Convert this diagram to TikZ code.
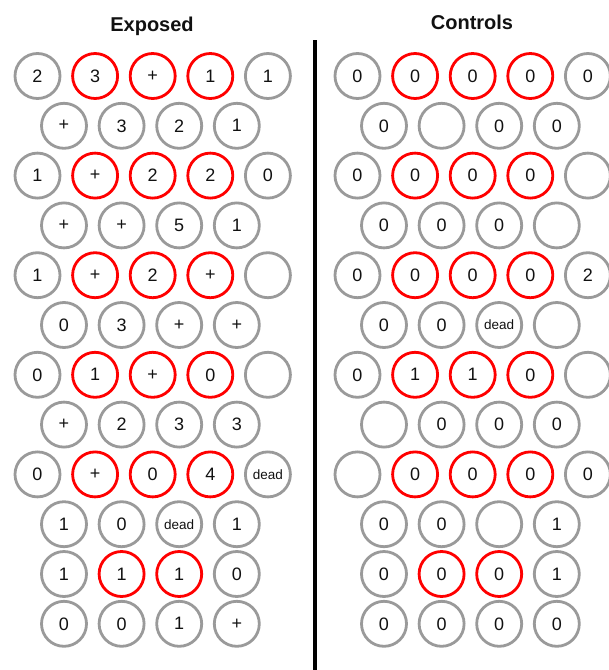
\documentclass[tikz,border=0pt]{standalone}
\usepackage{fontspec}
\setmainfont{Liberation Sans}
\usepackage{tikz}
\usetikzlibrary{positioning}
\definecolor{ringGrey}{HTML}{9A9A9A}
\definecolor{ringRed}{HTML}{FF0000}
\definecolor{bodyText}{HTML}{111111}

\begin{document}
\begin{tikzpicture}[x=1pt, y=-1pt,
  every node/.style={text=bodyText},
  cell/.style={circle, line width=2.8pt, minimum size=45pt, inner sep=0pt,
               font=\fontsize{18}{18}\selectfont},
  cellG/.style={cell, draw=ringGrey},
  cellR/.style={cell, draw=ringRed},
  cellD/.style={cellG, font=\fontsize{13.5}{13.5}\selectfont},
  paneltitle/.style={font=\fontsize{20}{20}\selectfont\bfseries},
  divider/.style={draw=black, line width=4pt},
]
  \useasboundingbox (0,0) rectangle (609,670);

  % ═══ Panel titles ═══
  \node[paneltitle] (exposed)  at (152, 26) {Exposed};
  \node[paneltitle] (controls) at (472, 22) {Controls};

  % ═══ Divider between the two panels ═══
  \coordinate (div_top) at (315, 40);
  \coordinate (div_bot) at (315, 670);
  \draw[divider] (div_top) -- (div_bot);

  % ═══ Exposed: 12 rows, odd rows hold 5 cells, even rows 4 (shifted) ═══
  % row / x of first cell / cells (style/label)
  \foreach \row/\colx/\cells in {
      1/37.5/{cellG/2, cellR/3, cellR/+, cellR/1, cellG/1},
      2/64/{cellG/+, cellG/3, cellG/2, cellG/1},
      3/37.5/{cellG/1, cellR/+, cellR/2, cellR/2, cellG/0},
      4/64/{cellG/+, cellG/+, cellG/5, cellG/1},
      5/37.5/{cellG/1, cellR/+, cellR/2, cellR/+, cellG/{}},
      6/64/{cellG/0, cellG/3, cellG/+, cellG/+},
      7/37.5/{cellG/0, cellR/1, cellR/+, cellR/0, cellG/{}},
      8/64/{cellG/+, cellG/2, cellG/3, cellG/3},
      9/37.5/{cellG/0, cellR/+, cellR/0, cellR/4, cellD/dead},
      10/64/{cellG/1, cellG/0, cellD/dead, cellG/1},
      11/64/{cellG/1, cellR/1, cellR/1, cellG/0},
      12/64/{cellG/0, cellG/0, cellG/1, cellG/+}}
  {
    \foreach \sty/\lbl [count=\i] in \cells
      \node[\sty] (e_\row_\i) at ({\colx+(\i-1)*57.6}, {76+(\row-1)*49.8}) {\lbl};
  }

  % ═══ Controls: same grid, moved 320 to the right ═══
  \foreach \row/\colx/\cells in {
      1/357.5/{cellG/0, cellR/0, cellR/0, cellR/0, cellG/0},
      2/384/{cellG/0, cellG/{}, cellG/0, cellG/0},
      3/357.5/{cellG/0, cellR/0, cellR/0, cellR/0, cellG/{}},
      4/384/{cellG/0, cellG/0, cellG/0, cellG/{}},
      5/357.5/{cellG/0, cellR/0, cellR/0, cellR/0, cellG/2},
      6/384/{cellG/0, cellG/0, cellD/dead, cellG/{}},
      7/357.5/{cellG/0, cellR/1, cellR/1, cellR/0, cellG/{}},
      8/384/{cellG/{}, cellG/0, cellG/0, cellG/0},
      9/357.5/{cellG/{}, cellR/0, cellR/0, cellR/0, cellG/0},
      10/384/{cellG/0, cellG/0, cellG/{}, cellG/1},
      11/384/{cellG/0, cellR/0, cellR/0, cellG/1},
      12/384/{cellG/0, cellG/0, cellG/0, cellG/0}}
  {
    \foreach \sty/\lbl [count=\i] in \cells
      \node[\sty] (c_\row_\i) at ({\colx+(\i-1)*57.6}, {76+(\row-1)*49.8}) {\lbl};
  }
\end{tikzpicture}
\end{document}
